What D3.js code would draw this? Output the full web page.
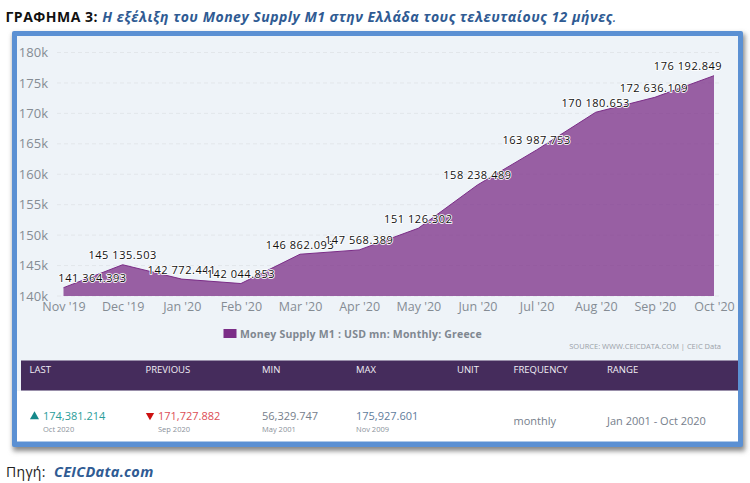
<!DOCTYPE html>
<html>
<head>
<meta charset="utf-8">
<script src="https://cdn.jsdelivr.net/npm/d3@7"></script>
<style>
  html, body { margin: 0; padding: 0; background: #fff; }
  text { font-family: "Open Sans", sans-serif; }
</style>
</head>
<body>
<div id="chart"></div>
<script>
// Chart data
const months = ["Nov '19", "Dec '19", "Jan '20", "Feb '20", "Mar '20", "Apr '20", "May '20", "Jun '20", "Jul '20", "Aug '20", "Sep '20", "Oct '20"];
const values = [141364.393, 145135.503, 142772.441, 142044.853, 146862.093, 147568.389, 151126.302, 158238.489, 163987.753, 170180.653, 172636.109, 176192.849];
const yTicks = [140000, 145000, 150000, 155000, 160000, 165000, 170000, 175000, 180000];

// Table under the chart
const tableHeads = ["LAST", "PREVIOUS", "MIN", "MAX", "UNIT", "FREQUENCY", "RANGE"];
const tableValues = ["174,381.214", "171,727.882", "56,329.747", "175,927.601", "", "monthly", "Jan 2001 - Oct 2020"];
const tableDates = ["Oct 2020", "Sep 2020", "May 2001", "Nov 2009", "", "", ""];

const width = 750, height = 483;

const svg = d3.select("#chart").append("svg")
    .attr("width", width)
    .attr("height", height)
    .style("display", "block");

// Card shadow
const defs = svg.append("defs");
const blur = defs.append("filter").attr("id", "shadow")
    .attr("x", "-5%").attr("y", "-5%").attr("width", "110%").attr("height", "110%");
blur.append("feGaussianBlur").attr("stdDeviation", 2.5);

svg.append("rect").attr("x", 13).attr("y", 34).attr("width", 732).attr("height", 417)
    .attr("fill", "#888").attr("filter", "url(#shadow)");

// Card
svg.append("rect").attr("x", 12).attr("y", 31).attr("width", 731).attr("height", 416)
    .attr("rx", 2).attr("fill", "#5b90d3");
svg.append("rect").attr("x", 17).attr("y", 36).attr("width", 721).attr("height", 355).attr("fill", "#eef3f8");
svg.append("rect").attr("x", 17).attr("y", 391).attr("width", 721).attr("height", 50.5).attr("fill", "#fff");
svg.append("rect").attr("x", 21).attr("y", 360.5).attr("width", 717).attr("height", 30).attr("fill", "#452c5c");

// Title
const title = svg.append("text").attr("x", 5.5).attr("y", 22)
    .style("font-size", "14px").style("font-weight", "bold").style("letter-spacing", "0.5px");
title.append("tspan").attr("fill", "#111").text("ΓΡΑΦΗΜΑ 3: ");
title.append("tspan").attr("fill", "#2f5b93").style("font-style", "italic")
    .text("Η εξέλιξη του Money Supply M1 στην Ελλάδα τους τελευταίους 12 μήνες");
title.append("tspan").attr("fill", "#2f5b93").style("font-weight", "normal").style("font-style", "italic").text(".");

// Scales
const x = d3.scalePoint().domain(months).range([63.5, 714]);
const y = d3.scaleLinear().domain([140000, 180000]).range([296, 52.5]);

// Gridlines
svg.append("g").selectAll("line")
    .data(yTicks)
    .enter()
    .append("line")
    .attr("x1", 57)
    .attr("x2", 721)
    .attr("y1", d => y(d))
    .attr("y2", d => y(d))
    .attr("stroke", "#e2e6ea")
    .attr("stroke-dasharray", "4,3");

// Area
const area = d3.area()
    .x((d, i) => x(months[i]))
    .y0(y(140000))
    .y1(d => y(d));

svg.append("path")
    .datum(values)
    .attr("d", area)
    .attr("fill", "#7b2d87")
    .attr("fill-opacity", 0.75);

const line = d3.line()
    .x((d, i) => x(months[i]))
    .y(d => y(d));

svg.append("path")
    .datum(values)
    .attr("d", line)
    .attr("fill", "none")
    .attr("stroke", "#7b2d87")
    .attr("stroke-width", 1);

// Y axis
const yAxis = d3.axisLeft(y).tickValues(yTicks).tickFormat(d => d / 1000 + "k").tickSize(0).tickPadding(0);
const yG = svg.append("g").attr("transform", "translate(48,0)").call(yAxis);
yG.select(".domain").remove();
yG.selectAll("text").attr("fill", "#858c94").style("font-size", "13px");

// X axis
const xAxis = d3.axisBottom(x).tickSize(0).tickPadding(0);
const xG = svg.append("g").attr("transform", "translate(0,302)").call(xAxis);
xG.select(".domain").remove();
xG.selectAll("text").attr("fill", "#858c94").style("font-size", "12.5px");

// Value labels, the first and last are pushed inside the plot
const labelFormat = v => {
    const [whole, frac] = v.toFixed(3).split(".");
    return whole.slice(0, 3) + " " + whole.slice(3) + "." + frac;
};
const labelShift = [29, 0, 0, 0, 0, 0, 0, 0, 0, 0, -1, -26];
svg.append("g").selectAll("text")
    .data(values)
    .enter()
    .append("text")
    .attr("x", (d, i) => x(months[i]) + labelShift[i])
    .attr("y", d => y(d) - 5.5)
    .attr("text-anchor", "middle")
    .attr("fill", "#111")
    .attr("stroke", "#fff")
    .attr("stroke-width", 1.6)
    .attr("paint-order", "stroke")
    .style("font-size", "11px")
    .style("letter-spacing", "0.55px")
    .text(labelFormat);

// Legend
svg.append("rect").attr("x", 223.5).attr("y", 329).attr("width", 13).attr("height", 9).attr("fill", "#7b2d87");
svg.append("text").attr("x", 240).attr("y", 338)
    .attr("fill", "#7f8790").style("font-size", "10.5px").style("font-weight", "bold").style("letter-spacing", "0.2px")
    .text("Money Supply M1 : USD mn: Monthly: Greece");

// Source
svg.append("text").attr("x", 721).attr("y", 348.5).attr("text-anchor", "end")
    .attr("fill", "#9aa1a8").style("font-size", "7.5px")
    .text("SOURCE: WWW.CEICDATA.COM | CEIC Data");

// Table
const colX = d3.scaleOrdinal().domain(tableHeads).range([29.5, 145.5, 262, 356, 457, 513.5, 607]);

svg.append("g").selectAll("text")
    .data(tableHeads)
    .enter()
    .append("text")
    .attr("x", d => colX(d))
    .attr("y", 373)
    .attr("fill", "#f1eef5")
    .style("font-size", "9.5px")
    .text(d => d);

const valueColors = ["#2a9d9a", "#dc4d55", "#76808c", "#5f7c9c", "#76808c", "#76808c", "#76808c"];
const valueX = [43, 158, 262, 356, 457, 513.5, 607];
const dateX = [43, 158, 262, 356];
const valueY = [420, 420, 420, 420, 424, 424.5, 424.5];

svg.append("g").selectAll("text")
    .data(tableValues)
    .enter()
    .append("text")
    .attr("x", (d, i) => valueX[i])
    .attr("y", (d, i) => valueY[i])
    .attr("fill", (d, i) => valueColors[i])
    .style("font-size", "11px")
    .text(d => d);

svg.append("g").selectAll("text")
    .data(tableDates.slice(0, 4))
    .enter()
    .append("text")
    .attr("x", (d, i) => dateX[i])
    .attr("y", 431.5)
    .attr("fill", "#8a929b")
    .style("font-size", "7.5px")
    .text(d => d);

// Up and down markers
svg.append("path").attr("d", d3.symbol(d3.symbolTriangle, 36)()).attr("transform", "translate(34.5,416.5)").attr("fill", "#16898a");
svg.append("path").attr("d", d3.symbol(d3.symbolTriangle, 30)()).attr("transform", "translate(150,415.5) rotate(180)").attr("fill", "#cc1111");

// Footer
svg.append("text").attr("x", 6).attr("y", 477).attr("fill", "#222").style("font-size", "14px").style("letter-spacing", "0.3px").text("Πηγή:");
svg.append("text").attr("x", 54).attr("y", 477).attr("fill", "#2f5b93")
    .style("font-size", "14.5px").style("font-weight", "bold").style("font-style", "italic").style("letter-spacing", "0.3px").text("CEICData.com");
</script>
</body>
</html>
